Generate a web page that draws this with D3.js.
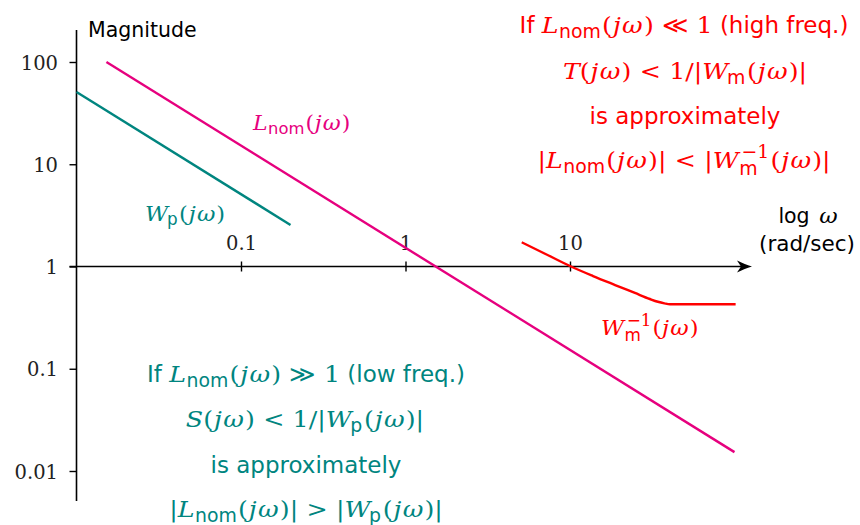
<!DOCTYPE html>
<html><head><meta charset="utf-8">
<script src="https://cdn.jsdelivr.net/npm/d3@7"></script>
<style>body{margin:0;background:#fff} svg{display:block} svg text{white-space:pre}</style>
</head><body>
<svg id="chart" width="860" height="525"></svg>
<script>
// Loop-shaping sketch: loop gain vs. performance and robustness weights (log-log)
const magTicks = [100, 10, 1, 0.1, 0.01];
const magTickLabels = ["100", "10", "1", "0.1", "0.01"];
const freqTicks = [0.1, 1, 10];
const freqTickLabels = ["0.1", "1", "10"];

const lnomFreq = [0.0152, 100];
const lnomMag = [100, 0.0153];
const wpFreq = [0.01, 0.2];
const wpMag = [51, 2.55];
const wmInvFreq = [5.09, 7.15, 10.14, 13.8, 18.8, 24.8, 30.6, 34.2, 37.5, 40.5, 101.6];
const wmInvMag = [1.725, 1.319, 1.0, 0.807, 0.659, 0.551, 0.481, 0.452, 0.436, 0.427, 0.427];

const colors = { lnom: "#e6007e", wp: "#00857f", wm: "#ff0000", axis: "#000" };
const SF = "'DejaVu Sans', sans-serif";
const RM = "'DejaVu Serif', serif";

const svg = d3.select("#chart");
const x = d3.scaleLog().domain([0.01, 100]).range([76.5, 734.5]);
const y = d3.scaleLog().domain([0.01, 100]).range([471, 62]);
const y1 = y(1);

// ---- axes ----
const yAxis = d3.axisLeft(y).tickValues(magTicks)
  .tickFormat((d, i) => magTickLabels[i]).tickSize(7).tickPadding(11.5);
const gy = svg.append("g").attr("transform", `translate(${x(0.01)},0)`).call(yAxis);
gy.select(".domain").remove();
gy.selectAll(".tick line").attr("stroke", colors.axis).attr("stroke-width", 1.4);
gy.selectAll(".tick text").attr("font-family", RM).attr("font-size", 19.5)
  .attr("fill", "#222").attr("dy", "0.36em");
svg.append("line").attr("x1", x(0.01)).attr("x2", x(0.01)).attr("y1", 30).attr("y2", 501)
  .attr("stroke", colors.axis).attr("stroke-width", 1.6);

const xAxis = d3.axisTop(x).tickValues(freqTicks)
  .tickFormat((d, i) => freqTickLabels[i]).tickSize(5).tickPadding(11.5);
const gx = svg.append("g").attr("transform", `translate(0,${y1})`).call(xAxis);
gx.select(".domain").remove();
gx.selectAll(".tick line").attr("y1", 5).attr("y2", -5)
  .attr("stroke", colors.axis).attr("stroke-width", 1.4);
gx.selectAll(".tick text").attr("font-family", RM).attr("font-size", 19.5).attr("fill", "#222");
svg.append("line").attr("x1", x(0.01) - 7).attr("x2", 745).attr("y1", y1).attr("y2", y1)
  .attr("stroke", colors.axis).attr("stroke-width", 1.6);
// stealth-style arrowhead
svg.append("path")
  .attr("d", `M752,${y1} C747,${y1 - 1.5} 741,${y1 - 4} 737,${y1 - 6} L741,${y1} L737,${y1 + 6} C741,${y1 + 4} 747,${y1 + 1.5} 752,${y1} Z`)
  .attr("fill", colors.axis);

// ---- curves ----
const line = d3.line().x(d => x(d[0])).y(d => y(d[1]));
svg.append("path").datum(d3.zip(lnomFreq, lnomMag)).attr("d", line)
  .attr("fill", "none").attr("stroke", colors.lnom).attr("stroke-width", 2.4);
svg.append("path").datum(d3.zip(wpFreq, wpMag)).attr("d", line)
  .attr("fill", "none").attr("stroke", colors.wp).attr("stroke-width", 2.4);
svg.append("path").datum(d3.zip(wmInvFreq, wmInvMag))
  .attr("d", line.curve(d3.curveMonotoneX))
  .attr("fill", "none").attr("stroke", colors.wm).attr("stroke-width", 2.4);

// ---- rich text: a row of pieces laid out left to right ----
// kind: sf (sans), rm (upright serif), it (italic serif); serif math is set slightly wide
const MX = 1.1;
function piece(t, kind, opts) { return Object.assign({ t, kind, s: 1, dy: 0 }, opts || {}); }
const gap = em => ({ gap: em });
function richText(parts, anchorX, baseline, color, size, align) {
  const g = svg.append("g").attr("fill", color);
  let cx = 0;
  parts.forEach(p => {
    if (p.gap !== undefined) { cx += p.gap * size; return; }
    const kern = (p.kern || 0) * size;
    if (p.kind === "stack") {
      // superscript over subscript in one text element
      const base = cx + kern;
      const el = g.append("text").attr("transform", `translate(${base},0)`)
        .attr("font-size", size * p.s);
      const up = el.append("tspan").text(p.sup).attr("x", 0).attr("y", p.supDy * size)
        .attr("font-family", RM);
      const dn = el.append("tspan").text(p.sub).attr("x", p.subDx * size).attr("y", p.subDy * size)
        .attr("font-family", SF);
      const w = Math.max(up.node().getComputedTextLength(),
        dn.node().getComputedTextLength() + p.subDx * size);
      cx = base + w + 0.05 * size;
      return;
    }
    const sx = p.kind === "sf" ? 1 : MX;
    const el = g.append("text").text(p.t)
      .attr("transform", `translate(${cx},${p.dy * size}) scale(${sx},1)`)
      .attr("font-size", size * p.s)
      .attr("font-family", p.kind === "sf" ? SF : RM)
      .attr("font-style", p.kind === "it" ? "italic" : "normal");
    cx += el.node().getComputedTextLength() * sx + kern;
  });
  const left = align === "start" ? anchorX : anchorX - cx / 2;
  g.attr("transform", `translate(${left},${baseline})`);
  return g;
}
const SUB = 0.82;
const sub = (t, extra) => piece(t, "sf", Object.assign({ s: SUB, dy: 0.2 }, extra || {}));
const jw = () => [piece("(", "rm", { kern: 0.04 }), piece("j", "it", { kern: 0.06 }),
  piece("ω", "it", { kern: 0.05 }), piece(")", "rm")];
const Lnom = () => [piece("L", "it", { kern: 0.02 }), sub("nom", { kern: 0.05 }), ...jw()];
const Wsub = s => [piece("W", "it", { kern: -0.06 }), sub(s, { kern: 0.07 }), ...jw()];
const WmInv = () => [piece("W", "it", { kern: 0.02 }),
  { kind: "stack", sup: "−1", sub: "m", s: SUB, supDy: -0.42, subDy: 0.3, subDx: -0.1, kern: 0.1 },
  ...jw()];
const rel = r => [gap(0.36), piece(r, "rm"), gap(0.36)];

// axis titles
richText([piece("Magnitude", "sf")], 88, 37, "#000", 20.5, "start");
richText([piece("log ", "sf"), gap(0.15), piece("ω", "it")], 808, 223, "#000", 20.5);
richText([piece("(rad/sec)", "sf")], 807, 251, "#000", 21.5);

// curve labels
richText(Lnom(), 253, 130, colors.lnom, 20, "start");
richText(Wsub("p"), 145, 221, colors.wp, 20.5, "start");
richText(WmInv(), 601, 335, colors.wm, 20.5, "start");

// high-frequency note
const FS = 23;
richText([piece("If ", "sf"), ...Lnom(), ...rel("≪"), piece("1", "rm"), piece(" (high freq.)", "sf")],
  684, 33, colors.wm, FS);
richText([piece("T", "it"), ...jw(), ...rel("<"), piece("1/|", "rm"), ...Wsub("m"), piece("|", "rm")],
  685, 79, colors.wm, FS);
richText([piece("is approximately", "sf")], 685, 124, colors.wm, FS);
richText([piece("|", "rm"), ...Lnom(), piece("|", "rm"), ...rel("<"), piece("|", "rm"), ...WmInv(),
  piece("|", "rm")], 684, 168, colors.wm, FS);

// low-frequency note
richText([piece("If ", "sf"), ...Lnom(), ...rel("≫"), piece("1", "rm"), piece(" (low freq.)", "sf")],
  306, 382, colors.wp, FS);
richText([piece("S", "it"), ...jw(), ...rel("<"), piece("1/|", "rm"), ...Wsub("p"), piece("|", "rm")],
  305, 427, colors.wp, FS);
richText([piece("is approximately", "sf")], 306, 473, colors.wp, FS);
richText([piece("|", "rm"), ...Lnom(), piece("|", "rm"), ...rel(">"), piece("|", "rm"), ...Wsub("p"),
  piece("|", "rm")], 306, 517, colors.wp, FS);
</script>
</body></html>
